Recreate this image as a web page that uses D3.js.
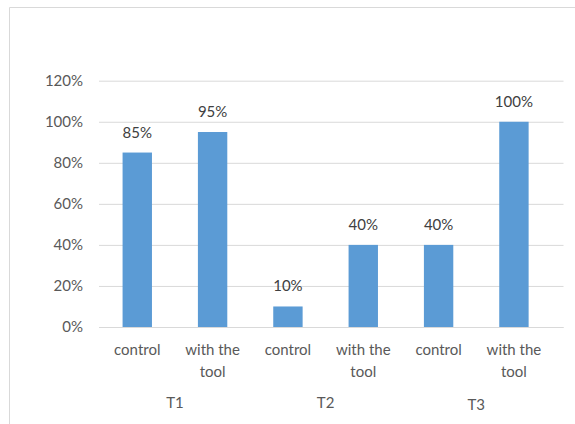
<!DOCTYPE html>
<html><head><meta charset="utf-8">
<script src="https://cdn.jsdelivr.net/npm/d3@7"></script>
<style>html,body{margin:0;padding:0;background:#fff;}text{font-family:Lato,"Open Sans",sans-serif;}</style>
</head><body>
<svg id="c" width="575" height="424"></svg>
<script>
const groups = ["T1", "T2", "T3"];
const categories = ["control", "with the tool", "control", "with the tool", "control", "with the tool"];
const values = [0.85, 0.95, 0.10, 0.40, 0.40, 1.00];
const yTicks = [0, 0.2, 0.4, 0.6, 0.8, 1.0, 1.2];

(function () {
const svg = d3.select("#c");
const FS = 15;
// chart border
svg.append("line").attr("x1", 9.5).attr("x2", 575).attr("y1", 7.5).attr("y2", 7.5).attr("stroke", "#d9d9d9");
svg.append("line").attr("x1", 9.5).attr("x2", 9.5).attr("y1", 7.5).attr("y2", 424).attr("stroke", "#d9d9d9");

const pL = 99, pR = 563.5, pT = 80.7, pB = 327;
const idx = categories.map((d, i) => i);
const x = d3.scaleBand().domain(idx).range([99.6, 551.6]).paddingInner(0.61).paddingOuter(0.305);
const y = d3.scaleLinear().domain([0, 1.2]).range([pB, pT]);

const yAxis = d3.axisLeft(y).tickValues(yTicks).tickFormat(d3.format(".0%")).tickSize(-(pR - pL)).tickPadding(16);
const ga = svg.append("g").attr("transform", `translate(${pL},0)`).call(yAxis);
ga.select(".domain").remove();
ga.selectAll(".tick line").attr("stroke", "#d9d9d9");
ga.selectAll(".tick text").attr("fill", "#595959").attr("font-size", FS).attr("font-family", "Lato");

svg.selectAll("rect.bar").data(values).enter().append("rect")
  .attr("x", (d, i) => x(i)).attr("width", x.bandwidth())
  .attr("y", d => y(d)).attr("height", d => pB - y(d))
  .attr("fill", "#5b9bd5");

svg.append("line").attr("x1", pL).attr("x2", pR).attr("y1", pB + 0.5).attr("y2", pB + 0.5).attr("stroke", "#d9d9d9");

svg.selectAll("text.lbl").data(values).enter().append("text")
  .attr("x", (d, i) => x(i) + x.bandwidth() / 2).attr("y", d => y(d) - 15)
  .attr("text-anchor", "middle").attr("fill", "#404040").attr("font-size", FS)
  .text(d => d3.format(".0%")(d));

categories.forEach((c, i) => {
  const cx = x(i) + x.bandwidth() / 2;
  const lines = c === "with the tool" ? ["with the", "tool"] : [c];
  lines.forEach((t, j) => {
    svg.append("text").attr("x", cx).attr("y", 355 + j * 22)
      .attr("text-anchor", "middle").attr("fill", "#595959").attr("font-size", FS).text(t);
  });
});
groups.forEach((g, k) => {
  const cx = (x(2 * k) + x(2 * k + 1) + x.bandwidth()) / 2;
  svg.append("text").attr("x", cx).attr("y", k === 2 ? 410 : 408)
    .attr("text-anchor", "middle").attr("fill", "#595959").attr("font-size", FS).text(g);
});
})();
</script>
</body></html>
